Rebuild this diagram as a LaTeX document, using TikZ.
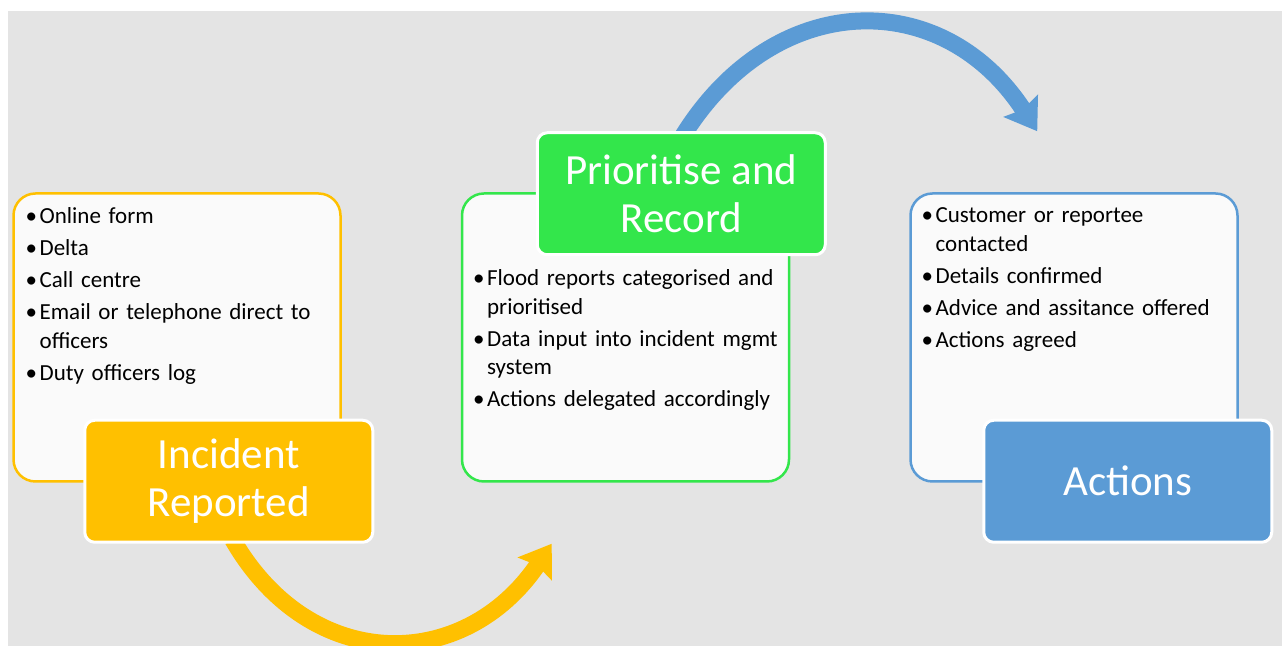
\documentclass[tikz,border=0pt]{standalone}
\usepackage{fontspec}
\setmainfont{Carlito}
\usetikzlibrary{positioning, arrows.meta}

\definecolor{bggray}{HTML}{E4E4E4}
\definecolor{boxfill}{HTML}{FAFAFA}
\definecolor{incorange}{HTML}{FFC000}
\definecolor{prigreen}{HTML}{33E64B}
\definecolor{actblue}{HTML}{5B9BD5}

\pgfdeclarelayer{back}
\pgfdeclarelayer{mid}
\pgfsetlayers{back,mid,main}

\newcommand{\bitem}[1]{\par\hangindent=7pt\hangafter=1\noindent\makebox[7pt][l]{\strut\textbullet}#1}

\begin{document}
\begin{tikzpicture}[x=0.5pt,y=0.5pt,
    listbox/.style={rectangle, rounded corners=11pt, fill=boxfill, line width=1.25pt,
                    minimum width=163.5pt, minimum height=144pt},
    listtext/.style={anchor=north west, inner sep=0pt, text width=155pt, align=left,
                     font=\fontsize{11.5}{14.25}\selectfont\setlength{\parskip}{1.75pt}},
    titlebox/.style={rectangle, rounded corners=5pt, draw=white, line width=1.5pt,
                     minimum width=144pt, minimum height=61pt, inner sep=0pt,
                     text=white, align=center, font=\fontsize{21.5}{24}\selectfont},
    bigarrow/.style={line width=8.5pt, -{Stealth[length=15pt,width=20pt,inset=2pt]}}]
   \useasboundingbox (0,0) rectangle (1282,646);
   \begin{pgfonlayer}{back}
     \fill[bggray] (8,0) rectangle (1282,635);
   \end{pgfonlayer}

   \node[listbox, draw=incorange] (box_inc) at (177,308.5) {};
   \node[listbox, draw=prigreen, right=59.5pt of box_inc] (box_pri) {};
   \node[listbox, draw=actblue, right=59.5pt of box_pri] (box_act) {};

   \node[listtext] (items_inc) at ([shift={(13,1)}]box_inc.north west) {%
     \bitem{Online form}
     \bitem{Delta}
     \bitem{Call centre}
     \bitem{Email or telephone direct to\newline officers}
     \bitem{Duty officers log}};
   \node[listtext] (items_pri) at ([shift={(12,-61)}]box_pri.north west) {%
     \bitem{Flood reports categorised and\newline prioritised}
     \bitem{Data input into incident mgmt\newline system}
     \bitem{Actions delegated accordingly}};
   \node[listtext] (items_act) at ([shift={(12,2)}]box_act.north west) {%
     \bitem{Customer or reportee\newline contacted}
     \bitem{Details confirmed}
     \bitem{Advice and assitance offered}
     \bitem{Actions agreed}};

   \node[titlebox, fill=incorange, anchor=south west] (ttl_inc)
        at ([shift={(71,-61)}]box_inc.south west) {Incident\\Reported};
   \node[titlebox, fill=prigreen, anchor=north west] (ttl_pri)
        at ([shift={(75,61)}]box_pri.north west) {Prioritise and\\Record};
   \node[titlebox, fill=actblue, anchor=south west] (ttl_act)
        at ([shift={(73,-61)}]box_act.south west) {Actions};

   \coordinate (tip_pri) at ([shift={(91,-61)}]box_pri.south west);
   \coordinate (tip_act) at ([shift={(128,61)}]box_act.north west);

   \begin{pgfonlayer}{mid}
     \draw[bigarrow, incorange] ([shift={(4,4)}]ttl_inc.south)
          to[out=-60, in=-124, looseness=1.25] (tip_pri);
     \draw[bigarrow, actblue] ([shift={(2,-4)}]ttl_pri.north)
          to[out=58, in=123, looseness=1.25] (tip_act);
   \end{pgfonlayer}
\end{tikzpicture}
\end{document}
